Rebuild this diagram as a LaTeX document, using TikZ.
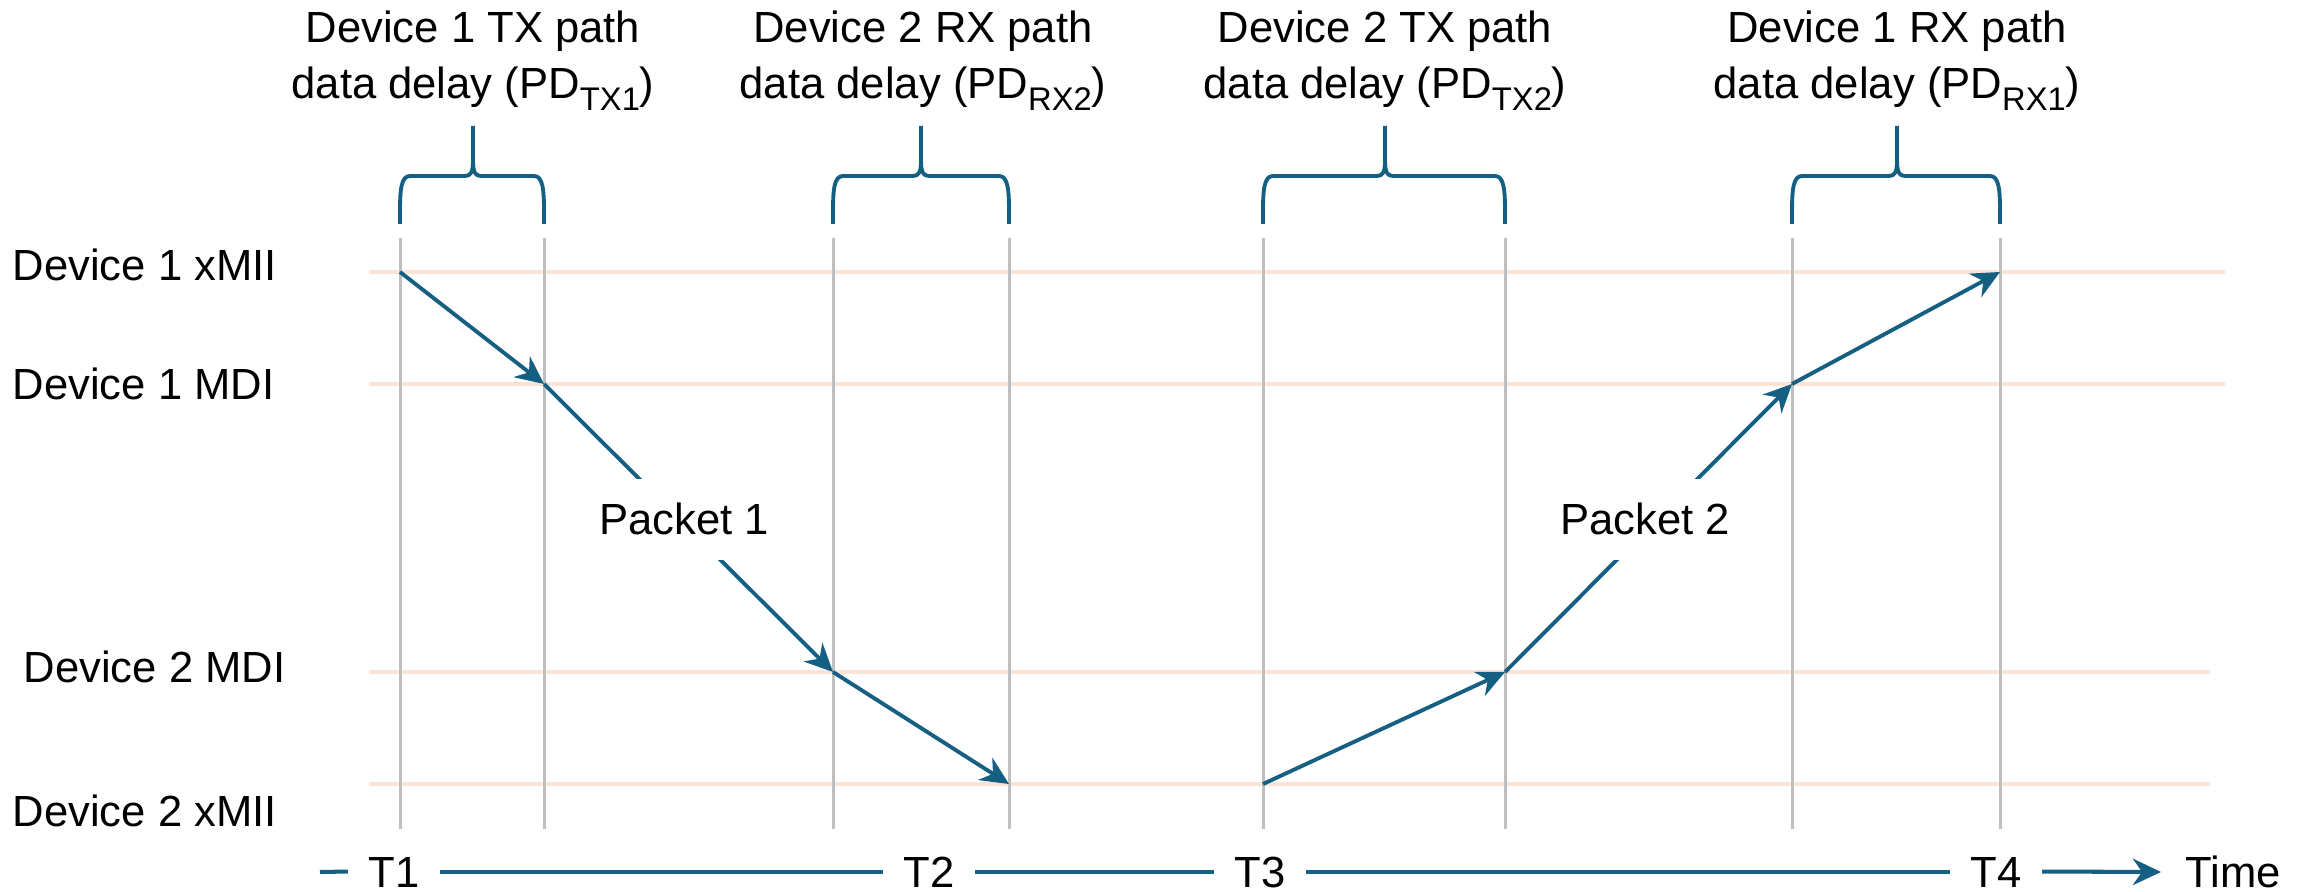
\documentclass[tikz,border=0pt]{standalone}
\usepackage{fontspec}
\setmainfont{Liberation Sans}
\usetikzlibrary{arrows.meta}

\definecolor{flow}{HTML}{156082}
\definecolor{lane}{HTML}{FBE3D6}
\definecolor{grid}{HTML}{BFBFBF}

% lowered, smaller subscript for the delay symbols
\newcommand\pdsub[1]{\raisebox{-3.4pt}{\fontsize{9.3pt}{10pt}\selectfont #1}}

% curly bracket spanning one delay interval: left x, middle x, right x
\newcommand\delaybrace[3]{%
  \draw[bracket] (#1,224) -- (#1,212) .. controls (#1,190) and (#1+1,176) .. (#1+10,176)
    -- (#2-8,176) .. controls (#2-2,176) and (#2,172) .. (#2,160) -- (#2,126)
    (#2,160) .. controls (#2,172) and (#2+2,176) .. (#2+8,176)
    -- (#3-10,176) .. controls (#3-1,176) and (#3,190) .. (#3,212) -- (#3,224);
}

\tikzset{
  lbl/.style={inner sep=0pt, font=\fontsize{12.4pt}{14pt}\selectfont},
  lanelbl/.style={lbl, anchor=base west},
  ttl/.style={lbl, anchor=base},
  pkt/.style={lbl, anchor=base, fill=white, inner xsep=2pt, inner ysep=7pt},
  tick/.style={lbl, anchor=base, inner xsep=5.7pt, text height=8.8pt, text depth=0pt},
  lanebar/.style={draw=lane, line width=1.2pt},
  gridbar/.style={draw=grid, line width=0.85pt},
  hop/.style={draw=flow, line width=1.1pt, -{Stealth[length=8pt,width=7.5pt,inset=2.6pt]}},
  bracket/.style={draw=flow, line width=1.1pt, line join=round},
  axis/.style={draw=flow, line width=1.15pt},
}

\begin{document}
\begin{tikzpicture}[x=0.01cm, y=-0.01cm]
  \fill[white] (0,0) rectangle (2313,892);
  \useasboundingbox (0,0) rectangle (2313,892);

  % lanes
  \coordinate (l1w) at (369,272);  \coordinate (l1e) at (2225,272);
  \coordinate (l2w) at (369,384);  \coordinate (l2e) at (2225,384);
  \coordinate (l3w) at (369,672);  \coordinate (l3e) at (2210,672);
  \coordinate (l4w) at (369,784);  \coordinate (l4e) at (2210,784);
  \draw[lanebar] (l1w) -- (l1e);
  \draw[lanebar] (l2w) -- (l2e);
  \draw[lanebar] (l3w) -- (l3e);
  \draw[lanebar] (l4w) -- (l4e);

  % time markers
  \foreach \gx in {400,544,833,1009,1263,1505,1792,2000}
    \draw[gridbar] (\gx,238) -- (\gx,829);

  % lane names
  \node[lanelbl] (d1x) at (12,281) {Device 1 xMII};
  \node[lanelbl] (d1m) at (12,400) {Device 1 MDI};
  \node[lanelbl] (d2m) at (23,683) {Device 2 MDI};
  \node[lanelbl] (d2x) at (12,827) {Device 2 xMII};

  % delay brackets and captions
  \delaybrace{400}{473}{544}
  \delaybrace{833}{921}{1009}
  \delaybrace{1263}{1385}{1505}
  \delaybrace{1792}{1897}{2000}

  \node[ttl] (h1a) at (473,43) {Device 1 TX path};
  \node[ttl] (h1b) at (473,99) {data delay (PD\pdsub{TX1})};
  \node[ttl] (h2a) at (923,43) {Device 2 RX path};
  \node[ttl] (h2b) at (923,99) {data delay (PD\pdsub{RX2})};
  \node[ttl] (h3a) at (1385,43) {Device 2 TX path};
  \node[ttl] (h3b) at (1385,99) {data delay (PD\pdsub{TX2})};
  \node[ttl] (h4a) at (1897,43) {Device 1 RX path};
  \node[ttl] (h4b) at (1897,99) {data delay (PD\pdsub{RX1})};

  % packet 1: device 1 to device 2
  \coordinate (a1) at (400,272);
  \coordinate (a2) at (544,384);
  \coordinate (a3) at (833,672);
  \coordinate (a4) at (1009,784);
  \draw[hop] (a1) -- (a2);
  \draw[hop] (a2) -- (a3);
  \draw[hop] (a3) -- (a4);

  % packet 2: device 2 to device 1
  \coordinate (b1) at (1263,784);
  \coordinate (b2) at (1505,672);
  \coordinate (b3) at (1792,384);
  \coordinate (b4) at (2000,272);
  \draw[hop] (b1) -- (b2);
  \draw[hop] (b2) -- (b3);
  \draw[hop] (b3) -- (b4);

  \node[pkt] (pk1) at (684,535) {Packet 1};
  \node[pkt] (pk2) at (1645,535) {Packet 2};

  % time axis
  \node[tick] (t1) at (394,887) {T1};
  \node[tick] (t2) at (929,887) {T2};
  \node[tick] (t3) at (1260,887) {T3};
  \node[tick] (t4) at (1996,887) {T4};
  \coordinate (ax0) at (320,872);
  \coordinate (axend) at (2161,872);
  \draw[axis] (ax0) -- (t1.west);
  \draw[axis] (t1.east) -- (t2.west);
  \draw[axis] (t2.east) -- (t3.west);
  \draw[axis] (t3.east) -- (t4.west);
  \draw[axis, -{Stealth[length=8pt,width=7.5pt,inset=2.6pt]}] (t4.east) -- (axend);
  \node[lanelbl] (time) at (2185,887) {Time};
\end{tikzpicture}
\end{document}
